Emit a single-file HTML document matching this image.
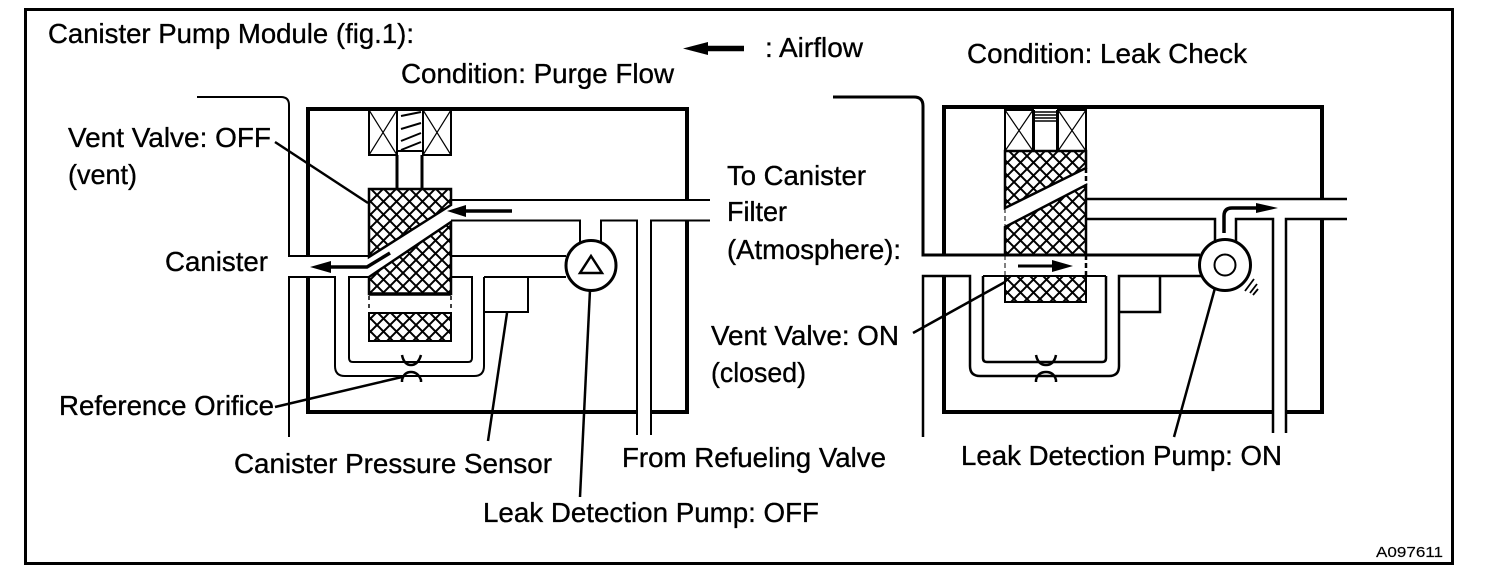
<!DOCTYPE html>
<html><head><meta charset="utf-8"><style>
html,body{margin:0;padding:0;background:#fff}
svg{display:block}
text{font-family:"Liberation Sans",sans-serif;font-size:28px;fill:#000;stroke:#000;stroke-width:.35px}
</style></head><body>
<svg width="1504" height="580" viewBox="0 0 1504 580" xmlns="http://www.w3.org/2000/svg">
<defs>
<pattern id="h" width="13" height="13" patternUnits="userSpaceOnUse">
<path d="M-1 -1L14 14M-1 14L14 -1M-7.5 5.5L7.5 20.5M5.5 -7.5L20.5 7.5M5.500 20.500L20.500 5.500M-7.500 7.500L7.500 -7.500" stroke="#000" stroke-width="2" fill="none"/>
</pattern>
</defs>
<rect x="25.5" y="9.5" width="1427" height="554" fill="none" stroke="#000" stroke-width="3"/>

<g fill="none" stroke="#000" stroke-width="4">
<path d="M308 256V109H687V200M687 220V412H651M637 412H308V277"/>
<path d="M944 255V107H1322V199M1322 219V412H1287M1273 412H944V277" />
</g>

<g fill="none" stroke="#000" stroke-width="2">
<!-- left pipes -->
<path d="M197 97H281Q289 97 289 105V256H369"/>
<path d="M289 437V277H335V366Q335 376 345 376H474Q484 376 484 366V277"/>
<path d="M369 277H349V358Q349 362 353 362H468Q472 362 472 358V277H451"/>
<path d="M484 277H566"/>
<path d="M451 256H566"/>
<path d="M451 200H710M451 220.500H580V243M601 243V220.500H637V435M651 435V220.500H710"/>
<path d="M484 312H528V277"/>
<circle cx="591" cy="265.500" r="25" stroke-width="3"/>
<path d="M591 256L602 273H580Z" stroke-width="2.500"/>
<!-- left valve -->
<path d="M369 110H397V155H369ZM423 155H451V110H423Z"/>
<path d="M369 110L397 155M397 110L369 155M423 110L451 155M451 110L423 155" stroke-width="1.200"/>
<path d="M397 110V151H423V110" />
<path d="M397 155V189M422 155V189" stroke-width="3"/>
<path d="M401 116L421 112M401 129L421 123M401 141L421 133M401 150L421 142" stroke-width="2"/>
</g>
<polygon points="369,189 451,189 451,205 369,257" fill="url(#h)" stroke="#000" stroke-width="2.500"/>
<polygon points="451,222 451,294 369,294 369,277" fill="url(#h)" stroke="#000" stroke-width="2.500"/>
<rect x="369" y="313" width="82" height="28" fill="url(#h)" stroke="#000" stroke-width="2"/>
<path d="M369 294H451" stroke="#000" stroke-width="3.500"/>
<path d="M369 296V313M451 296V313" stroke="#000" stroke-width="1.500" stroke-dasharray="4 4"/>
<!-- left arrows -->
<path d="M512 211H462" stroke="#000" stroke-width="3.500"/>
<polygon points="447,211 466,205 466,217"/>
<path d="M325 267H367L390 253" stroke="#000" stroke-width="3.500" fill="none"/>
<polygon points="310,267 331,261 331,273"/>
<!-- left orifice -->
<g fill="none" stroke="#000" stroke-width="2.500">
<path d="M402 355Q404 365 411 365Q418 365 421 355"/>
<path d="M402 382V380Q404 372 411 372Q418 372 421 380V382"/>
</g>

<!-- right pipes -->
<g fill="none" stroke="#000" stroke-width="2">
<path d="M833 97H914Q923 97 923 106V255H1200" stroke-width="3"/>
<path d="M923 437V276H970V366Q970 376 980 376H1109Q1119 376 1119 366V276H1201" stroke-width="2.500"/>
<path d="M983 276V358Q983 362 987 362H1102Q1106 362 1106 358V276" stroke-width="2.500"/>
<path d="M983 276H1106"/>
<path d="M1119 312H1160V276" stroke-width="2.500"/>
<path d="M1087 199H1347M1087 219H1215V243M1236 243V219H1273V433M1286 433V219H1347" stroke-width="2.500"/>
<circle cx="1225" cy="265" r="25.500" stroke-width="3"/>
<circle cx="1225" cy="265" r="10.500" stroke-width="2"/>
<path d="M1245 291L1254 279M1250 293L1257 284M1253 295L1258 289" stroke-width="1.800"/>
<!-- right valve -->
<path d="M1005 110H1033V151H1005ZM1058 151H1086V110H1058Z"/>
<path d="M1005 110L1033 151M1033 110L1005 151M1058 110L1086 151M1086 110L1058 151" stroke-width="1.200"/>
<path d="M1034 110V151H1057V110" stroke-width="2"/>
<path d="M1035 112H1056M1035 115H1056M1035 118H1056M1035 121H1056" stroke-width="1.400"/>
</g>
<polygon points="1005,151 1086,151 1086,168 1005,208" fill="url(#h)" stroke="#000" stroke-width="2.500"/>
<polygon points="1086,185 1086,255 1005,255 1005,227" fill="url(#h)" stroke="#000" stroke-width="2.500"/>
<rect x="1005" y="276" width="81" height="26" fill="url(#h)" stroke="#000" stroke-width="2"/>
<path d="M1005 208V255M1005 255V276" stroke="#000" stroke-width="1" stroke-dasharray="5 3"/>
<path d="M1086 168V185M1086 255V276" stroke="#000" stroke-width="2.500" stroke-dasharray="5 3"/>
<path d="M1018 266H1058" stroke="#000" stroke-width="3"/>
<polygon points="1073,266 1052,260 1052,272"/>
<path d="M1224 233V216Q1224 208 1232 208H1262" stroke="#000" stroke-width="3.500" fill="none"/>
<polygon points="1278,208 1256,203 1256,213"/>
<g fill="none" stroke="#000" stroke-width="2.500">
<path d="M1036 355Q1038 365 1046 365Q1054 365 1056 355"/>
<path d="M1036 382V380Q1038 372 1046 372Q1054 372 1056 380V382"/>
</g>

<!-- airflow arrow -->
<path d="M700 48.500H744" stroke="#000" stroke-width="5.500"/>
<polygon points="683,48.500 708,42 708,55"/>

<!-- leaders -->
<g stroke="#000" stroke-width="2.500" fill="none">
<path d="M275 142L368 203"/>
<path d="M275 407L402 377"/>
<path d="M507 313L488 441"/>
<path d="M590 290L580 497"/>
<path d="M1005 282L913 333"/>
<path d="M1215 288L1174 437"/>
</g>

<!-- labels -->
<text x="48" y="43" textLength="366" lengthAdjust="spacingAndGlyphs">Canister Pump Module (fig.1):</text>
<text x="765" y="57" textLength="98" lengthAdjust="spacingAndGlyphs">: Airflow</text>
<text x="401" y="83" textLength="273" lengthAdjust="spacingAndGlyphs">Condition: Purge Flow</text>
<text x="967" y="63" textLength="280" lengthAdjust="spacingAndGlyphs">Condition: Leak Check</text>
<text x="68" y="147" textLength="203" lengthAdjust="spacingAndGlyphs">Vent Valve: OFF</text>
<text x="68" y="184" textLength="69" lengthAdjust="spacingAndGlyphs">(vent)</text>
<text x="165" y="271" textLength="103" lengthAdjust="spacingAndGlyphs">Canister</text>
<text x="727" y="185" textLength="139" lengthAdjust="spacingAndGlyphs">To Canister</text>
<text x="727" y="221" textLength="60" lengthAdjust="spacingAndGlyphs">Filter</text>
<text x="727" y="259" textLength="174" lengthAdjust="spacingAndGlyphs">(Atmosphere):</text>
<text x="711" y="345" textLength="188" lengthAdjust="spacingAndGlyphs">Vent Valve: ON</text>
<text x="711" y="382" textLength="95" lengthAdjust="spacingAndGlyphs">(closed)</text>
<text x="59" y="415" textLength="215" lengthAdjust="spacingAndGlyphs">Reference Orifice</text>
<text x="234" y="473" textLength="318" lengthAdjust="spacingAndGlyphs">Canister Pressure Sensor</text>
<text x="622" y="467" textLength="264" lengthAdjust="spacingAndGlyphs">From Refueling Valve</text>
<text x="483" y="522" textLength="336" lengthAdjust="spacingAndGlyphs">Leak Detection Pump: OFF</text>
<text x="961" y="465" textLength="321" lengthAdjust="spacingAndGlyphs">Leak Detection Pump: ON</text>
<text x="1376" y="557" textLength="67" lengthAdjust="spacingAndGlyphs" style="font-size:15px;stroke-width:.15px">A097611</text>
</svg>
</body></html>
